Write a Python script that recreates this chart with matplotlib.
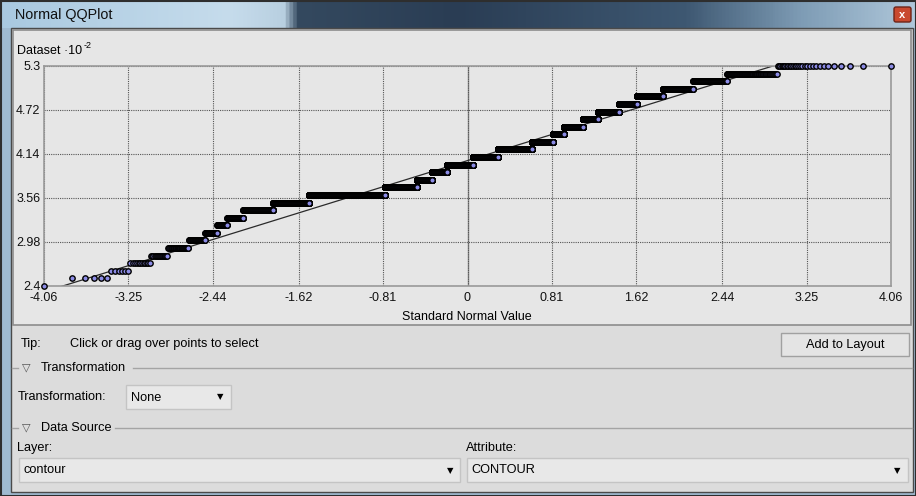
import matplotlib
matplotlib.use("Agg")
import matplotlib.pyplot as plt
from matplotlib.patches import Rectangle, FancyBboxPatch
from matplotlib.colors import LinearSegmentedColormap
import numpy as np
from statistics import NormalDist

plt.rcParams['font.family'] = ['Liberation Sans', 'DejaVu Sans']

# contour values (x 10^-2) and how many samples sit on each value
levels = [2.4, 2.5, 2.6, 2.7, 2.8, 2.9, 3.0, 3.1, 3.2, 3.3,
          3.4, 3.5, 3.6, 3.7, 3.8, 3.9, 4.0, 4.1, 4.2, 4.3,
          4.4, 4.5, 4.6, 4.7, 4.8, 4.9, 5.0, 5.1, 5.2, 5.3]
counts = [1, 5, 6, 12, 17, 35, 45, 46, 49, 105,
          314, 676, 3065, 2034, 1075, 1124, 2021, 1914, 2383, 1269,
          583, 885, 584, 661, 428, 441, 310, 181, 101, 30]

# reference line drawn through the cloud
line_intercept = 4.053
line_slope = 0.426

x_ticks = [-4.06, -3.25, -2.44, -1.62, -0.81, 0, 0.81, 1.62, 2.44, 3.25, 4.06]
x_labels = ['-4.06', '-3.25', '-2.44', '-1.62', '-0.81', '0',
            '0.81', '1.62', '2.44', '3.25', '4.06']
y_ticks = [2.4, 2.98, 3.56, 4.14, 4.72, 5.3]
y_labels = ['2.4', '2.98', '3.56', '4.14', '4.72', '5.3']

W, H = 916, 496
FS = 9.2  # dialog text size

# sorted sample values against standard normal quantiles
values = np.repeat(levels, counts)
n = len(values)
nd = NormalDist()
quantiles = np.array([nd.inv_cdf((i - 0.5) / n) for i in range(1, n + 1)])

fig = plt.figure(figsize=(W / 100, H / 100), dpi=100)
fig.patch.set_facecolor('#9fbad0')

bg = fig.add_axes([0, 0, 1, 1])
bg.axis('off')


def px_axes(x0, y0, x1, y1):
    return fig.add_axes([x0 / W, 1 - y1 / H, (x1 - x0) / W, (y1 - y0) / H])


# window title bar
title_cmap = LinearSegmentedColormap.from_list('title', [
    (0.0, '#a9c9e0'), (0.25, '#c6dcec'), (0.31, '#b8cfe0'),
    (0.325, '#34495f'), (0.5, '#2a3d54'), (0.75, '#3e5872'),
    (0.88, '#7f9db6'), (1.0, '#afc7da')])
bg.imshow(np.linspace(0, 1, 500)[None, :], cmap=title_cmap, aspect='auto',
          extent=[0, W, 28, 0], zorder=1)
bg.set_xlim(0, W)
bg.set_ylim(H, 0)
bg.add_patch(Rectangle((0.5, 0.5), W - 1, H - 1, fc='none', ec='#2e2e2e', lw=1.5, zorder=2))
bg.text(15, 15, 'Normal QQPlot', fontsize=10.4, va='center', ha='left', color='#111111', zorder=3)
bg.add_patch(FancyBboxPatch((894, 7), 17, 15, boxstyle='round,pad=0,rounding_size=2',
                            fc='#c9492f', ec='#6e2418', lw=1, zorder=3))
bg.text(902.5, 14.5, 'x', color='white', fontsize=8, fontweight='bold',
        ha='center', va='center', zorder=4)

# client area and chart panel
bg.add_patch(Rectangle((11, 28), 902, 464, fc='#dcdcdc', ec='#4a4a4a', lw=1, zorder=2))
bg.add_patch(Rectangle((13, 30), 898, 295, fc='#e6e6e6', ec='#8c8c8c', lw=1.2, zorder=2))

bg.text(17, 51, 'Dataset \u00b710', fontsize=9, va='center', ha='left', zorder=3)
bg.text(84, 45, '-2', fontsize=6.5, va='center', ha='left', zorder=3)
bg.text(467, 317, 'Standard Normal Value', fontsize=9, va='center', ha='center', zorder=3)

# the QQ plot itself
ax = px_axes(44, 66, 891, 286)
ax.set_facecolor('#e6e6e6')
ax.set_zorder(5)
ax.plot([-4.06, 4.06],
        [line_intercept + line_slope * -4.06, line_intercept + line_slope * 4.06],
        color='#2a2a2a', lw=0.9, zorder=2)
ax.scatter(quantiles, values, s=15, facecolor='#8c8ce6', edgecolor='#000000',
           linewidth=1.0, zorder=3, clip_on=False)
ax.set_xlim(-4.06, 4.06)
ax.set_ylim(2.4, 5.3)
ax.set_xticks(x_ticks)
ax.set_xticklabels(x_labels)
ax.set_yticks(y_ticks)
ax.set_yticklabels(y_labels)
ax.tick_params(length=0, labelsize=9, colors='#111111')
ax.tick_params(axis='x', pad=4.5)
ax.tick_params(axis='y', pad=2.5)
ax.grid(True, color='#555555', lw=0.8, linestyle=(0, (1, 1)), zorder=1)
ax.axvline(0, color='#8a8a8a', lw=1.0, zorder=1)
for s in ax.spines.values():
    s.set_color('#9a9a9a')
    s.set_linewidth(1.2)

# controls below the chart
bg.text(21, 344, 'Tip:', fontsize=FS, va='center', zorder=3)
bg.text(70, 344, 'Click or drag over points to select', fontsize=FS, va='center', zorder=3)

bg.add_patch(Rectangle((781, 333), 128, 23, fc='#e4e4e4', ec='#a0a0a0', lw=1, zorder=3))
bg.text(845, 345, 'Add to Layout', fontsize=FS, ha='center', va='center', zorder=4)

line_kw = dict(color='#a4a4a4', lw=1, zorder=3)
bg.plot([12, 18], [368, 368], **line_kw)
bg.text(22, 367, '\u25bd', fontsize=8, va='center', color='#555555',
        family='DejaVu Sans', zorder=3)
bg.text(41, 368, 'Transformation', fontsize=FS, va='center', zorder=3)
bg.plot([133, 912], [368, 368], **line_kw)

bg.text(18, 397, 'Transformation:', fontsize=FS, va='center', zorder=3)
bg.add_patch(Rectangle((126, 385), 105, 24, fc='#e8e8e8', ec='#c4c4c4', lw=1, zorder=3))
bg.text(131, 398, 'None', fontsize=FS, va='center', zorder=4)
bg.text(220, 397, '\u25bc', fontsize=6, va='center', ha='center',
        family='DejaVu Sans', zorder=4)

bg.plot([12, 18], [428, 428], **line_kw)
bg.text(22, 427, '\u25bd', fontsize=8, va='center', color='#555555',
        family='DejaVu Sans', zorder=3)
bg.text(41, 428, 'Data Source', fontsize=FS, va='center', zorder=3)
bg.plot([115, 912], [428, 428], **line_kw)

bg.text(17, 448, 'Layer:', fontsize=FS, va='center', zorder=3)
bg.add_patch(Rectangle((19, 458), 441, 24, fc='#e8e8e8', ec='#c4c4c4', lw=1, zorder=3))
bg.text(23, 470, 'contour', fontsize=FS, va='center', zorder=4)
bg.text(450, 471, '\u25bc', fontsize=6, va='center', ha='center',
        family='DejaVu Sans', zorder=4)

bg.text(466, 448, 'Attribute:', fontsize=FS, va='center', zorder=3)
bg.add_patch(Rectangle((467, 458), 441, 24, fc='#e8e8e8', ec='#c4c4c4', lw=1, zorder=3))
bg.text(471, 470, 'CONTOUR', fontsize=FS, va='center', zorder=4)
bg.text(897, 471, '\u25bc', fontsize=6, va='center', ha='center',
        family='DejaVu Sans', zorder=4)

fig.savefig('out.png', dpi=100, facecolor=fig.get_facecolor())
